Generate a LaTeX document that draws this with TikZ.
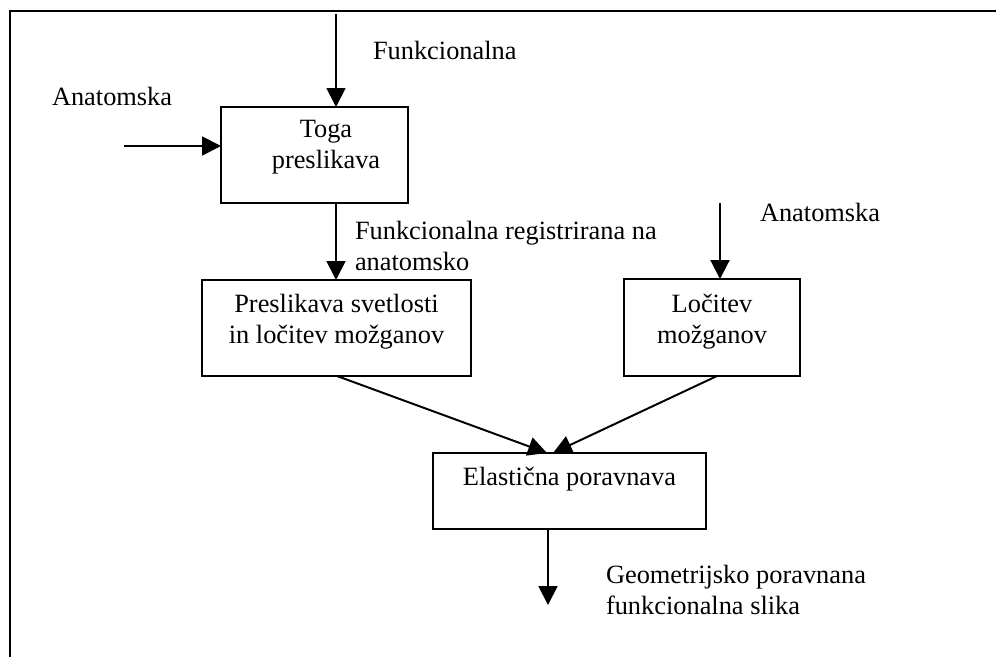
\documentclass[tikz,border=0pt]{standalone}
\usepackage{fontspec}
\setmainfont{Liberation Serif}
\usetikzlibrary{arrows.meta}
\begin{document}
\begin{tikzpicture}[x=0.455pt,y=-0.455pt,
  every node/.style={font=\fontsize{12}{14.1}\selectfont, inner sep=0pt, outer sep=0pt},
  boxnode/.style={draw, line width=0.9pt, rectangle},
  arr/.style={line width=0.9pt, -{Triangle[length=8.6pt,width=8.6pt]}},
  lbl/.style={align=left},
  btxt/.style={align=center, anchor=north}]
\useasboundingbox (0,0) rectangle (996,657);
% frame
\draw[line width=0.9pt] (10,660) -- (10,11) -- (1000,11);
% boxes
\node[boxnode, minimum width=85.1pt, minimum height=43.7pt] (toga) at (314.5,155) {};
\node[boxnode, minimum width=122.4pt, minimum height=43.7pt] (presl) at (336.5,328) {};
\node[boxnode, minimum width=80.1pt, minimum height=44.1pt] (locit) at (712,327.5) {};
\node[boxnode, minimum width=124.2pt, minimum height=34.6pt] (elast) at (569.5,491) {};
% box texts
\node[btxt] (togat) at (326,120) {Toga\\preslikava};
\node[btxt] (preslt) at (336.5,294) {Preslikava svetlosti\\in ločitev možganov};
\node[btxt] (locitt) at (712,294) {Ločitev\\možganov};
\node[btxt] (elastt) at (569.5,467) {Elastična poravnava};
% labels
\node[anchor=base west] (lfunk) at (373,59) {Funkcionalna};
\node[anchor=base west] (lanat1) at (52,105) {Anatomska};
\node[anchor=north west, lbl] (lreg) at (355,221) {Funkcionalna registrirana na\\anatomsko};
\node[anchor=base west] (lanat2) at (760,221) {Anatomska};
\node[anchor=north west, lbl] (lgeo) at (606,565) {Geometrijsko poravnana\\funkcionalna slika};
% connector coordinates
\coordinate (ftop) at (336,14);
\coordinate (aleft) at (124,146);
\coordinate (mid) at (336,240);
\coordinate (atop) at (720,203);
\coordinate (pout) at (337,376);
\coordinate (lout) at (717,376);
\coordinate (ein1) at (547,453);
\coordinate (ein2) at (553,453);
\coordinate (eout) at (548,529);
\coordinate (gend) at (548,605);
% connectors
\draw[arr] (ftop) -- (ftop |- toga.north);
\draw[arr] (aleft) -- (aleft -| toga.west);
\draw[arr] (mid |- toga.south) -- (mid |- presl.north);
\draw[arr] (atop) -- (atop |- locit.north);
\draw[arr] (pout) -- (ein1);
\draw[arr] (lout) -- (ein2);
\draw[arr] (eout) -- (gend);
\end{tikzpicture}
\end{document}
